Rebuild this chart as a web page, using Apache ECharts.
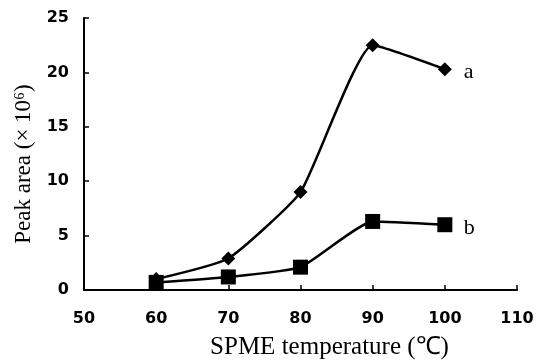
<!DOCTYPE html>
<html>
<head>
<meta charset="utf-8">
<script src="https://cdn.jsdelivr.net/npm/echarts@6/dist/echarts.min.js"></script>
<style>
  html, body { margin: 0; padding: 0; background: #fff; }
  #chart { width: 538px; height: 364px; }
</style>
</head>
<body>
<div id="chart"></div>
<script>
const temperatures = [60, 70, 80, 90, 100];
const seriesA = [1.0, 2.9, 9.0, 22.5, 20.3];
const seriesB = [0.7, 1.2, 2.1, 6.3, 6.0];
const seriesNames = ["a", "b"];

const toPairs = (vals) => temperatures.map((t, i) => [t, vals[i]]);

const chart = echarts.init(document.getElementById("chart"));

const tickFont = {
  fontFamily: "DejaVu Sans",
  fontWeight: "bold",
  fontSize: 16,
  color: "#000",
};

const endLabel = (text) => ({
  show: true,
  formatter: text,
  fontFamily: "Liberation Serif",
  fontSize: 22,
  color: "#000",
  distance: 19,
  offset: [0, 3],
});

const option = {
  animation: false,
  grid: { left: 84, right: 21, top: 18, bottom: 74, outerBoundsMode: "none", containLabel: false },
  xAxis: {
    type: "value",
    min: 50,
    max: 110,
    interval: 10,
    axisLine: { lineStyle: { color: "#000", width: 2 } },
    axisTick: { inside: true, length: 5, lineStyle: { color: "#000", width: 1.5 } },
    axisLabel: { ...tickFont, margin: 21 },
    splitLine: { show: false },
    name: "SPME temperature (℃)",
    nameLocation: "middle",
    nameGap: 45,
    nameTextStyle: {
      fontFamily: "Liberation Serif",
      fontSize: 25,
      color: "#000",
      padding: [0, 0, 0, 58],
    },
  },
  yAxis: {
    type: "value",
    min: 0,
    max: 25,
    interval: 5,
    axisLine: { show: true, lineStyle: { color: "#000", width: 2 } },
    axisTick: { show: true, inside: true, length: 5, lineStyle: { color: "#000", width: 1.5 } },
    axisLabel: { ...tickFont, margin: 15 },
    splitLine: { show: false },
    name: "Peak area (× 10⁶)",
    nameLocation: "middle",
    nameGap: 48,
    nameTextStyle: {
      fontFamily: "Liberation Serif",
      fontSize: 23,
      color: "#000",
      padding: [0, 20, 0, 0],
    },
  },
  series: [
    {
      name: seriesNames[0],
      type: "line",
      smooth: 0.15,
      data: toPairs(seriesA),
      symbol: "diamond",
      symbolSize: 14,
      itemStyle: { color: "#000" },
      lineStyle: { color: "#000", width: 2.5 },
      endLabel: endLabel(seriesNames[0]),
    },
    {
      name: seriesNames[1],
      type: "line",
      smooth: 0.15,
      data: toPairs(seriesB),
      symbol: "rect",
      symbolSize: 15,
      itemStyle: { color: "#000" },
      lineStyle: { color: "#000", width: 2.5 },
      endLabel: endLabel(seriesNames[1]),
    },
  ],
};

chart.setOption(option);
</script>
</body>
</html>
